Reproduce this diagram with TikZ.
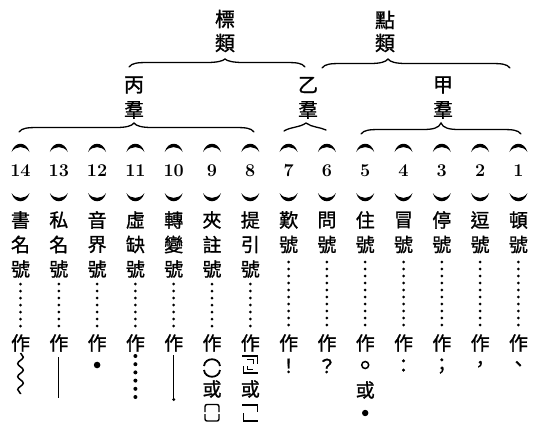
\documentclass[tikz,border=0pt]{standalone}
\usepackage{fontspec}
\newfontfamily\cjk[FakeBold=1.2]{Noto Sans CJK TC}
\usetikzlibrary{decorations.pathmorphing}
\newcommand\mybrace[5]{% x1, tip x, x2, y tip, y end
  \draw[bracestyle] (#1,#5) .. controls (#1+3,#5-4) and (#1+8,#5-4.5) .. (#1+20,#5-4.5)
    -- (#2-18,#5-4.5) .. controls (#2-8,#5-4.5) and (#2-2,#5-6) .. (#2,#4)
    .. controls (#2+2,#5-6) and (#2+8,#5-4.5) .. (#2+18,#5-4.5)
    -- (#3-20,#5-4.5) .. controls (#3-8,#5-4.5) and (#3-3,#5-4) .. (#3,#5);}
\newcommand\pcol[3]{% index, chars, dot start
  \pgfmathsetmacro\cx{20.5+38.3*(14-#1)}
  \pgfmathsetmacro\ya{#3+7}
  \coordinate (c#1) at (\cx,0);
  \fill (\cx-9,152) .. controls (\cx-6,141) and (\cx+6,141) .. (\cx+9,152)
        .. controls (\cx+5,145.5) and (\cx-5,145.5) .. cycle;
  \node[num] (n#1) at (\cx,171) {#1};
  \fill (\cx-9,193) .. controls (\cx-6,204) and (\cx+6,204) .. (\cx+9,193)
        .. controls (\cx+5,199.5) and (\cx-5,199.5) .. cycle;
  \foreach \c [count=\k] in {#2} {\node[lab] (l#1-\k) at (\cx,220+24.5*\k-24.5) {\c};}
  \foreach \yy in {#3,\ya,...,326} {\fill (\cx,\yy) circle (1.5);}
  \node[lab] (z#1) at (\cx,343) {作};
}
\begin{document}
\begin{tikzpicture}[x=1pt,y=-1pt,
  lab/.style={font=\cjk\fontsize{19}{19}\selectfont, inner sep=0pt},
  big/.style={font=\cjk\fontsize{20}{20}\selectfont, inner sep=0pt},
  num/.style={font=\bfseries\fontsize{18}{18}\selectfont, inner sep=0pt},
  bracestyle/.style={line width=1.3pt, line cap=round},
  mk/.style={line width=1.4pt}]
\useasboundingbox[fill=white] (0,0) rectangle (534,423);
% top labels
\node[big] (tA1) at (225,19) {標};
\node[big] (tA2) at (225,43) {類};
\node[big] (tB1) at (385,20) {點};
\node[big] (tB2) at (385,43) {類};
\mybrace{129}{225}{305}{59}{67}
\mybrace{322}{388}{510}{59}{68}
% group labels
\node[big] (g3a) at (134,85) {丙};
\node[big] (g3b) at (134,110) {羣};
\node[big] (g2a) at (308,85) {乙};
\node[big] (g2b) at (308,110) {羣};
\node[big] (g1a) at (443,85) {甲};
\node[big] (g1b) at (443,110) {羣};
\mybrace{19}{134}{254}{123}{132}
\mybrace{361}{441}{521}{123}{134}
\draw[bracestyle] (284,131) .. controls (290,127) and (300,127.5) .. (306,123)
  .. controls (312,127.5) and (320,127) .. (326,130);
% columns
\pcol{1}{頓,號}{262}
\pcol{2}{逗,號}{262}
\pcol{3}{停,號}{262}
\pcol{4}{冒,號}{262}
\pcol{5}{住,號}{262}
\pcol{6}{問,號}{262}
\pcol{7}{歎,號}{262}
\pcol{8}{提,引,號}{284}
\pcol{9}{夾,註,號}{284}
\pcol{10}{轉,變,號}{284}
\pcol{11}{虛,缺,號}{284}
\pcol{12}{音,界,號}{284}
\pcol{13}{私,名,號}{284}
\pcol{14}{書,名,號}{284}
% marks
\node[lab] (m1) at (518.4,366) {、};
\node[lab] (m2) at (480.1,366) {，};
\node[lab] (m3) at (441.8,366) {；};
\node[lab] (m4) at (403.5,366) {：};
\draw[line width=1.5pt] (365.2,365) circle (3.5);
\node[lab] (m5) at (365.2,390) {或};
\fill (365.2,413) circle (3.2);
\node[lab] (m6) at (326.9,366) {？};
\node[lab] (m7) at (288.6,366) {！};
% col 8
\begin{scope}[shift={(250.3,0)}, mk]
  \draw (-8,356) -- (7,356) -- (7,364);
  \draw (-3,359.5) -- (3,359.5) -- (3,364);
  \draw (-7,366) -- (-7,373) -- (8,373);
  \draw (-3,366) -- (-3,369.5) -- (3,369.5);
  \node[lab] (m8) at (0,389) {或};
  \draw (-8,405) -- (7,405) -- (7,412);
  \draw (-7,413) -- (-7,421) -- (8,421);
\end{scope}
% col 9
\begin{scope}[shift={(212,0)}, mk]
  \draw[line width=1.8pt] (-8,366) .. controls (-7,357) and (7,357) .. (8,366);
  \draw[line width=1.8pt] (-8,370) .. controls (-7,379) and (7,379) .. (8,370);
  \node[lab] (m9) at (0,389) {或};
  \draw[rounded corners=2pt] (-7,412) -- (-7,404.5) -- (7,404.5) -- (7,412);
  \draw[rounded corners=2pt] (-7,414) -- (-7,421) -- (7,421) -- (7,414);
\end{scope}
% col 10
\draw[line width=1.1pt] (173.7,355) -- (173.7,399);
\fill (173.7,399.5) circle (1.6);
% col 11
\foreach \yy in {356,364.2,...,398} {\fill (135.4,\yy) circle (2);}
% col 12
\fill (97.1,365) circle (3.3);
% col 13
\draw[line width=1.3pt] (58.8,357) -- (58.8,398);
% col 14
\draw[line width=1.5pt, decorate, decoration={snake, amplitude=2.8pt, segment length=13pt}] (20.5,353) -- (20.5,394);
\end{tikzpicture}
\end{document}
